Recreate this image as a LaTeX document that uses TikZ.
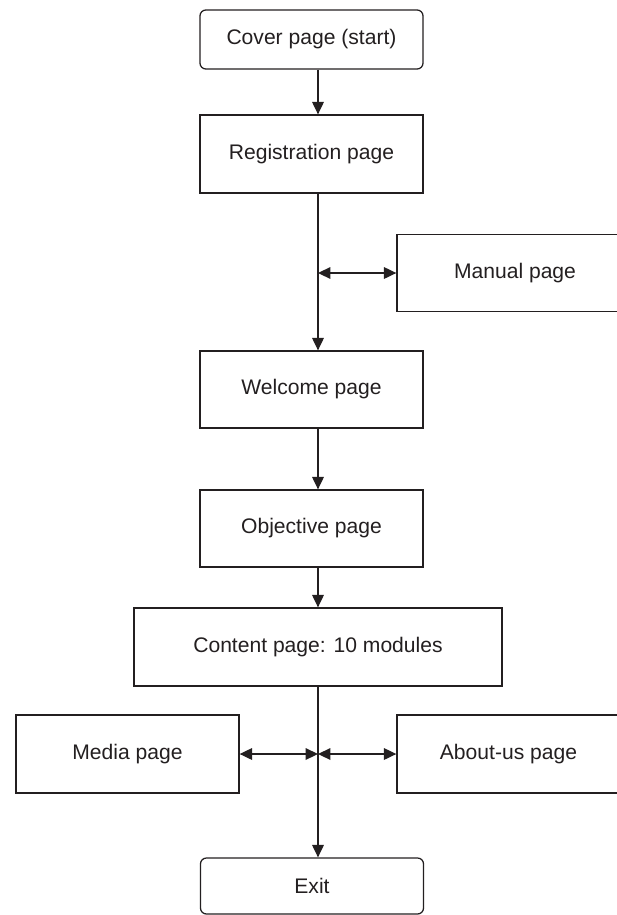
\documentclass[tikz,border=0pt]{standalone}
\usepackage{fontspec}
\setmainfont{Liberation Sans}
\usetikzlibrary{arrows.meta}
\definecolor{flowink}{RGB}{35,31,32}

\begin{document}
\begin{tikzpicture}[x=0.025cm, y=-0.025cm,
  pagebox/.style={draw=flowink, line width=0.9pt, minimum width=5.575cm, minimum height=1.95cm,
    inner sep=0pt, text=flowink, font=\fontsize{15}{18}\selectfont},
  endbox/.style={pagebox, rounded corners=0.15cm},
  flow/.style={draw=flowink, line width=1pt, -{Triangle[length=0.31cm,width=0.29cm]}},
  both/.style={flow, {Triangle[length=0.31cm,width=0.29cm]}-{Triangle[length=0.31cm,width=0.29cm]}}]
\useasboundingbox (0,0) rectangle (617,915);

% Main column
\node[endbox, minimum height=1.475cm] (cover) at (311.5,39.5) {Cover page (start)};
\node[pagebox] (reg) at (311.5,154) {Registration page};
\node[pagebox, minimum height=1.925cm] (welcome) at (311.5,389.5) {Welcome page};
\node[pagebox, minimum height=1.925cm] (objective) at (311.5,528.5) {Objective page};
\node[pagebox, minimum width=9.2cm] (content) at (318,647) {Content page: 10 modules};
\node[endbox, minimum height=1.4cm] (exit) at (312,886) {Exit};

% Side pages
\node[pagebox, minimum width=5.9cm, minimum height=1.925cm] (manual) at (515,273) {Manual page};
\node[pagebox] (media) at (127.5,754) {Media page};
\node[pagebox] (about) at (508.5,754) {About-us page};

% Trunk line
\coordinate (trunk) at (318,0);
\draw[flow] (cover.south -| trunk) -- (reg.north -| trunk);
\draw[flow] (reg.south -| trunk) -- (welcome.north -| trunk);
\draw[flow] (welcome.south -| trunk) -- (objective.north -| trunk);
\draw[flow] (objective.south -| trunk) -- (content.north);
\draw[flow] (content.south) -- (exit.north -| trunk);

% Two-way links
\draw[both] (manual.west -| trunk) -- (manual.west);
\draw[both] (media.east) -- (media.east -| trunk);
\draw[both] (about.west -| trunk) -- (about.west);
\end{tikzpicture}
\end{document}
